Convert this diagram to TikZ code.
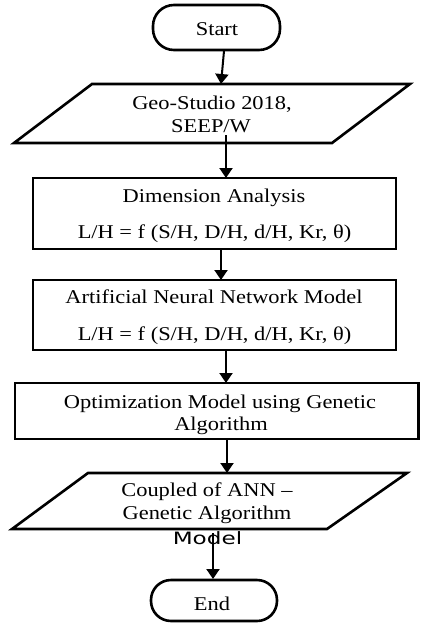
\documentclass[tikz,border=0pt]{standalone}
\usepackage{fontspec}
\usetikzlibrary{arrows.meta}
\newfontfamily\tnr[FakeStretch=1.15]{Liberation Serif}
\newfontfamily\dvs[FakeStretch=1.36]{DejaVu Sans}
\begin{document}
\begin{tikzpicture}[x=1pt,y=-1pt,
  shapeline/.style={line width=2.6pt, line join=miter},
  txt/.style={anchor=base, inner sep=0pt, font=\tnr\fontsize{19.5}{22}\selectfont},
  sanstxt/.style={anchor=base, inner sep=0pt, font=\dvs\fontsize{17}{20}\selectfont},
  flow/.style={line width=2pt, -{Triangle[length=10pt,width=13pt]}}]
\useasboundingbox (0,0) rectangle (420,623);

% shapes
\draw[shapeline, rounded corners=21pt] (153,5) rectangle (280,50);
\draw[shapeline] (92,84) -- (410,84) -- (332,143) -- (14,143) -- cycle;
\draw[shapeline] (33,178) rectangle (396,249);
\draw[shapeline] (33,280) rectangle (396,350);
\draw[shapeline] (15,383) rectangle (418.7,439);
\draw[shapeline] (88,473) -- (407,473) -- (327,529) -- (12,529) -- cycle;
\draw[shapeline, rounded corners=20pt] (151,580) rectangle (277,621);

% texts
\node[txt] (start) at (217,36) {Start};
\node[txt] (geo1) at (212,110) {Geo-Studio 2018,};
\node[txt] (geo2) at (211,132.5) {SEEP/W};
\node[txt] (dim1) at (214,202.3) {Dimension Analysis};
\node[txt] (dim2) at (214.5,238.3) {L/H = f (S/H, D/H, d/H, Kr, θ)};
\node[txt] (ann1) at (214,303.4) {Artificial Neural Network Model};
\node[txt] (ann2) at (214.5,340.6) {L/H = f (S/H, D/H, d/H, Kr, θ)};
\node[txt] (opt1) at (220,408.3) {Optimization Model using Genetic};
\node[txt] (opt2) at (221,430) {Algorithm};
\node[txt] (cpl1) at (207,496) {Coupled of ANN –};
\node[txt] (cpl2) at (207,519) {Genetic Algorithm};
\node[sanstxt] (cpl3) at (207.5,544) {Model};
\node[txt] (end) at (212,610) {End};

% connector endpoints
\coordinate (a1s) at (224,51);
\coordinate (a1e) at (221,84);
\coordinate (a2s) at (226,135);
\coordinate (a2e) at (226,178);
\coordinate (a3s) at (221,249);
\coordinate (a3e) at (221,280);
\coordinate (a4s) at (226,350);
\coordinate (a4e) at (226,383);
\coordinate (a5s) at (227,439);
\coordinate (a5e) at (227,473);
\coordinate (a6s) at (213,533);
\coordinate (a6e) at (213,579);

\draw[flow] (a1s) -- (a1e);
\draw[flow] (a2s) -- (a2e);
\draw[flow] (a3s) -- (a3e);
\draw[flow] (a4s) -- (a4e);
\draw[flow] (a5s) -- (a5e);
\draw[flow] (a6s) -- (a6e);
\end{tikzpicture}
\end{document}
